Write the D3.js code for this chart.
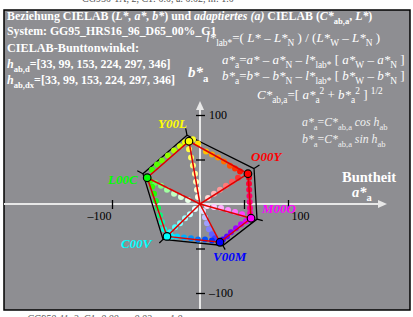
<!DOCTYPE html>
<html>
<head>
<meta charset="utf-8">
<script src="https://cdn.jsdelivr.net/npm/d3@7/dist/d3.min.js"></script>
<style>
  body { margin: 0; background: #fff; }
  svg text { font-family: "Liberation Serif", "DejaVu Serif", serif; }
</style>
</head>
<body>
<div id="chart"></div>
<script>
/* DATA */

// hue angles listed in the header
const hueAngles = [33, 99, 153, 224, 297, 346];

// corner names and colours
const corners = ["O00Y", "Y00L", "L00C", "C00V", "V00M", "M00O"];
const cornerColors = ["#ff0000", "#ffff00", "#00ff00", "#00ffff", "#0000ff", "#ff00ff"];

// inner (red) hexagon, a* and b* of each corner
const innerA = [54.5, -12.5, -60, -37.5, 22.7, 58];
const innerB = [34, 70.5, 29.5, -36.4, -43, -16];

// outer (black) hexagon
const outerA = [61.4, -14.8, -64.8, -42, 26, 64.8];
const outerB = [39.8, 77.3, 34, -39.8, -46.6, -17];

// dots along the edges: [a*, b*, colour]
const edgeDots = [
  // Y00L -> O00Y
  [-8, 72.7, "#ffff20"], [-2.3, 68, "#ffe000"], [6.8, 59, "#ffc000"], [13.6, 55.7, "#ffa800"],
  [20.5, 52.3, "#ff9000"], [27.3, 47.7, "#ff7000"], [34, 43, "#ff5000"], [39.8, 39.8, "#ff3000"],
  [45.5, 36.4, "#ff1000"],
  // O00Y -> M00O
  [55.7, 29.5, "#ff0020"], [55.7, 22.7, "#ff0038"], [55.9, 15.9, "#ff0050"], [56.2, 9.1, "#ff0068"],
  [56.5, 2.3, "#ff0080"], [56.8, -4.5, "#ff0098"], [57, -10.2, "#ff00b8"],
  // M00O -> V00M
  [52.3, -19.3, "#e000ff"], [46.6, -22.7, "#c000ff"], [40.9, -27.3, "#a000ff"], [35.2, -31.8, "#8000ff"],
  [30.7, -36.4, "#6000ff"], [26.1, -39.8, "#4000ff"],
  // V00M -> C00V
  [13.6, -40.9, "#0030ff"], [5.7, -39.8, "#0050ff"], [-2.3, -39.8, "#0070ff"], [-10.2, -38.6, "#0090ff"],
  [-18.2, -37.5, "#00b0ff"], [-26.1, -36.4, "#00d8ff"], [-31.8, -36.4, "#00f0ff"],
  // C00V -> L00C
  [-40.9, -28.4, "#00ffe0"], [-43.2, -20.5, "#00ffb0"], [-45.5, -12.5, "#00ff80"], [-47.7, -4.5, "#00ff50"],
  [-50, 3.4, "#10ff20"], [-52.3, 11.4, "#20ff00"], [-54.5, 19.3, "#30ff00"], [-56.8, 26.1, "#40ff00"],
  // L00C -> Y00L
  [-54.5, 38.6, "#40ff00"], [-48.9, 44.3, "#58ff00"], [-43.2, 48.9, "#70ff00"], [-36.4, 54.5, "#90ff00"],
  [-29.5, 60.2, "#b0ff00"], [-22.7, 64.8, "#d0ff00"], [-17, 69.3, "#f0ff00"]
];

// dots along the spokes: [a*, b*, colour]
const spokeDots = [
  // to Y00L
  [-12.5, 61.4, "#ffff40"], [-10.2, 52.3, "#ffff60"], [-8, 43.2, "#ffff80"], [-5.7, 34.1, "#ffffa0"],
  [-4.5, 25, "#ffffb8"], [-3.4, 15.9, "#ffffd0"], [-2.3, 8, "#ffffe8"],
  // to O00Y
  [43.2, 29.5, "#ff3030"], [36.4, 25, "#ff5858"], [29.5, 20.5, "#ff7878"], [22.7, 15.9, "#ff9898"],
  [15.9, 11.4, "#ffb8b8"], [9.1, 6.8, "#ffd8d8"],
  // to M00O
  [8, -2.3, "#ffe0ff"], [15.9, -3.4, "#ffc8ff"], [23.9, -4.5, "#ffb0ff"], [31.8, -6.8, "#ff90ff"],
  [39.8, -9.1, "#ff70ff"], [47.7, -11.4, "#ff40ff"],
  // to V00M
  [3.4, -8, "#e0e0ff"], [5.7, -14.8, "#c0c0ff"], [8, -21.6, "#a0a0ff"], [10.2, -28.4, "#8080ff"],
  [13.6, -34.1, "#6060ff"], [17, -38.6, "#4040ff"],
  // to C00V
  [-5.7, -5.7, "#e0ffff"], [-11.4, -11.4, "#c0ffff"], [-17, -15.9, "#a0ffff"], [-22.7, -21.6, "#80ffff"],
  [-28.4, -26.1, "#50ffff"], [-34.1, -31.8, "#20ffff"],
  // to L00C
  [-51.1, 23.9, "#60ff60"], [-44.3, 20.5, "#80ff80"], [-37.5, 15.9, "#a0ffa0"], [-29.5, 11.4, "#c0ffc0"],
  [-21.6, 8, "#d8ffd8"], [-13.6, 4.5, "#e8ffe8"]
];

// axis ticks
const tickValues = [-100, -50, 50, 100];

/* SETUP */

const width = 413, height = 317;
const svg = d3.select("#chart").append("svg")
    .attr("width", width)
    .attr("height", height);

const x = d3.scaleLinear().domain([-100, 100]).range([112, 288]);
const y = d3.scaleLinear().domain([-100, 100]).range([293, 115]);

// gray frame
svg.append("rect")
    .attr("x", 4).attr("y", 10)
    .attr("width", 406).attr("height", 300)
    .attr("fill", "#8e8e92")
    .attr("stroke", "#000")
    .attr("stroke-width", 1.5);

// text with italic / sub / sup parts
// parts: [string, flags]  flags: i = italic, b = subscript, p = superscript
function rich(x0, y0, parts, size, opts) {
    opts = opts || {};
    let t = svg.append("text")
        .attr("x", x0).attr("y", y0)
        .attr("font-size", size)
        .attr("font-weight", opts.bold ? "bold" : "normal")
        .attr("fill", opts.fill || "#fff");
    let shift = 0;
    parts.forEach((p) => {
        let f = p[1] || "";
        let target = f.includes("b") ? size * 0.3 : f.includes("p") ? -size * 0.4 : 0;
        t.append("tspan")
            .attr("dy", target - shift)
            .attr("font-size", (f.includes("b") || f.includes("p")) ? size * 0.72 : size)
            .attr("font-style", f.includes("i") ? "italic" : "normal")
            .text(p[0]);
        shift = target;
    });
    return t;
}

/* HEADER TEXT */

rich(7, 20, [["Beziehung CIELAB ("], ["L*, a*, b*", "i"], [") und "], ["adaptiertes (a)", "i"],
    [" CIELAB ("], ["C*", "i"], ["ab,a", "b"], [", "], ["L*", "i"], [")"]], 11.9, { bold: true });
rich(7, 35, [["System: GG95_HRS16_96_D65_00%_G1"]], 11.8, { bold: true });
rich(7, 52, [["CIELAB-Bunttonwinkel:"]], 12.2, { bold: true });
rich(7, 68, [["h", "i"], ["ab,d", "b"], ["=[" + hueAngles.join(", ") + "]"]], 12, { bold: true });
rich(7, 84, [["h", "i"], ["ab,dx", "b"], ["=[" + hueAngles.join(", ") + "]"]], 12, { bold: true });

rich(206, 42, [["l*", "i"], ["lab*", "b"], ["=( "], ["L*", "i"], [" \u2013 "], ["L*", "i"], ["N", "b"],
    [" ) / ("], ["L*", "i"], ["W", "b"], [" \u2013 "], ["L*", "i"], ["N", "b"], [" )"]], 13);
rich(222, 64, [["a*", "i"], ["a", "b"], ["="], ["a*", "i"], [" \u2013 "], ["a*", "i"], ["N", "b"],
    [" \u2013 "], ["l*", "i"], ["lab*", "b"], [" [ "], ["a*", "i"], ["W", "b"], [" \u2013 "],
    ["a*", "i"], ["N", "b"], [" ]"]], 13);
rich(222, 80, [["b*", "i"], ["a", "b"], ["="], ["b*", "i"], [" \u2013 "], ["b*", "i"], ["N", "b"],
    [" \u2013 "], ["l*", "i"], ["lab*", "b"], [" [ "], ["b*", "i"], ["W", "b"], [" \u2013 "],
    ["b*", "i"], ["N", "b"], [" ]"]], 13);
rich(257, 99, [["C*", "i"], ["ab,a", "b"], ["=[ "], ["a*", "i"], ["a", "b"], ["2", "p"], [" + "],
    ["b*", "i"], ["a", "b"], ["2", "p"], [" ] "], ["1/2", "p"]], 13);
rich(188, 77, [["b*", "i"], ["a", "b"]], 15, { bold: true });

/* AXES */

const axisColor = "#e8e8e8";
svg.append("line")
    .attr("x1", 4).attr("x2", 381)
    .attr("y1", y(0)).attr("y2", y(0))
    .attr("stroke", axisColor).attr("stroke-width", 2);
svg.append("line")
    .attr("x1", x(0)).attr("x2", x(0))
    .attr("y1", 309).attr("y2", 107)
    .attr("stroke", axisColor).attr("stroke-width", 2);
// arrow heads
svg.append("path")
    .attr("d", `M${x(0) - 4},${110} L${x(0)},${101} L${x(0) + 4},${110} Z`)
    .attr("fill", axisColor);
svg.append("path")
    .attr("d", `M${378},${y(0) - 4} L${387},${y(0)} L${378},${y(0) + 4} Z`)
    .attr("fill", axisColor);

const yAxis = svg.append("g")
    .attr("transform", `translate(${x(0) - 4},0)`)
    .call(d3.axisRight(y).tickValues(tickValues).tickSize(9).tickPadding(4)
        .tickFormat((d) => Math.abs(d) === 100 ? (d < 0 ? "\u2013100" : "100") : ""));
const xAxis = svg.append("g")
    .attr("transform", `translate(0,${y(0) - 4})`)
    .call(d3.axisBottom(x).tickValues(tickValues).tickSize(9).tickPadding(2)
        .tickFormat((d) => Math.abs(d) === 100 ? (d < 0 ? "\u2013100" : "100") : ""));

[yAxis, xAxis].forEach((a) => {
    a.select(".domain").remove();
    a.selectAll(".tick line").attr("stroke", "#000").attr("stroke-width", 1.3);
    a.selectAll(".tick text")
        .attr("fill", "#000")
        .attr("font-size", 12)
        .attr("font-family", "Liberation Serif, serif");
});
xAxis.selectAll(".tick text")
    .attr("text-anchor", (d) => d < 0 ? "end" : "start")
    .attr("dx", (d) => d < 0 ? -1 : 3);

/* PLOT TEXT */

rich(302, 126, [["a*", "i"], ["a", "b"], ["="], ["C*", "i"], ["ab,a", "b"], [" cos h", "i"], ["ab", "b"]],
    11.8, { fill: "#f0f0f0" });
rich(302, 143, [["b*", "i"], ["a", "b"], ["="], ["C*", "i"], ["ab,a", "b"], [" sin h", "i"], ["ab", "b"]],
    11.8, { fill: "#f0f0f0" });
rich(342, 182, [["Buntheit"]], 14.5, { bold: true });
rich(352, 197, [["a*", "i"], ["a", "b"]], 14.5, { bold: true });

/* MARKS */

const inner = corners.map((c, i) => ({ name: c, a: innerA[i], b: innerB[i], color: cornerColors[i] }));
const outer = corners.map((c, i) => ({ name: c, a: outerA[i], b: outerB[i] }));

// black outer hexagon
svg.append("path")
    .attr("d", d3.line().x((d) => x(d.a)).y((d) => y(d.b))(outer.concat([outer[0]])))
    .attr("fill", "none")
    .attr("stroke", "#000")
    .attr("stroke-width", 1.3);

// small radial marks at outer corners
svg.selectAll(".cornerTick")
    .data(outer)
    .enter()
        .append("line")
        .attr("x1", (d) => x(d.a))
        .attr("y1", (d) => y(d.b))
        .attr("x2", (d) => x(d.a * 1.1))
        .attr("y2", (d) => y(d.b * 1.1))
        .attr("stroke", "#000")
        .attr("stroke-width", 1.2);

// coloured dots
svg.selectAll(".dot")
    .data(spokeDots.concat(edgeDots))
    .enter()
        .append("circle")
        .attr("cx", (d) => x(d[0]))
        .attr("cy", (d) => y(d[1]))
        .attr("r", 3)
        .attr("fill", (d) => d[2]);

// red inner hexagon and spokes
svg.append("path")
    .attr("d", d3.line().x((d) => x(d.a)).y((d) => y(d.b))(inner.concat([inner[0]])))
    .attr("fill", "none")
    .attr("stroke", "#e00000")
    .attr("stroke-width", 1.5);
svg.selectAll(".spoke")
    .data(inner)
    .enter()
        .append("line")
        .attr("x1", x(0)).attr("y1", y(0))
        .attr("x2", (d) => x(d.a))
        .attr("y2", (d) => y(d.b))
        .attr("stroke", "#e00000")
        .attr("stroke-width", 1.5);

// corner circles
svg.selectAll(".corner")
    .data(inner)
    .enter()
        .append("circle")
        .attr("cx", (d) => x(d.a))
        .attr("cy", (d) => y(d.b))
        .attr("r", 3.8)
        .attr("fill", (d) => d.color)
        .attr("stroke", "#000")
        .attr("stroke-width", 1.2);

// corner labels
const labelPos = {
    "Y00L": [158, 128], "O00Y": [251, 161], "L00C": [108, 184],
    "C00V": [121, 248], "V00M": [213, 261], "M00O": [262, 213]
};
svg.selectAll(".label")
    .data(inner)
    .enter()
        .append("text")
        .attr("x", (d) => labelPos[d.name][0])
        .attr("y", (d) => labelPos[d.name][1])
        .attr("font-size", 13)
        .attr("font-weight", "bold")
        .attr("font-style", "italic")
        .attr("fill", (d) => d.color)
        .text((d) => d.name);

/* OUTSIDE TEXT (cut by the window) */
svg.append("text")
    .attr("x", 82).attr("y", 2)
    .attr("font-size", 10).attr("fill", "#555")
    .text("CG950-1A, 2, C1: 0.0, a: 0.02, m: 1.0");
svg.append("text")
    .attr("x", 27).attr("y", 322)
    .attr("font-size", 10).attr("font-style", "italic").attr("fill", "#555")
    .text("CG950-11, 2, C1: 0.00, a: 0.02, m: 1.0");
</script>
</body>
</html>
